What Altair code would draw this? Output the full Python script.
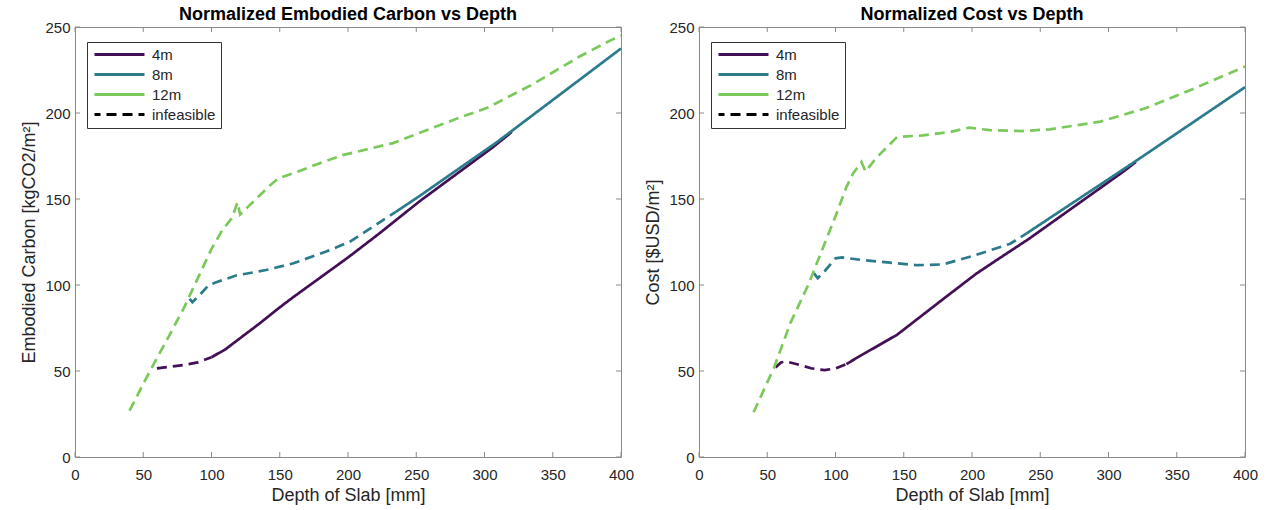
import altair as alt
import pandas as pd

# ---- Embodied carbon vs slab depth (kgCO2/m^2) ----
carbon_4m_depth = [60, 70, 80, 90, 100, 110, 120, 135, 150, 160, 200, 223, 253, 306, 320]
carbon_4m_value = [51.5, 52.5, 53.5, 55, 58, 62.5, 68.5, 77.5, 87, 93, 116, 130, 149, 180, 189]
carbon_4m_feasible_from = 100

carbon_8m_depth = [84, 86, 90, 98, 105, 118, 140, 160, 184, 201, 233, 235, 252, 309, 400]
carbon_8m_value = [92, 90, 93, 100, 102, 105.5, 108.7, 112.6, 119.5, 125, 141.5, 142.5, 151.5, 183, 237.5]
carbon_8m_feasible_from = 235

carbon_12m_depth = [40, 50, 60, 70, 80, 90, 100, 108, 115, 119, 121, 130, 143, 149, 160, 180,
                    196, 233, 251, 284, 302, 336, 370, 393, 400]
carbon_12m_value = [27, 42.5, 57.5, 72, 87, 104, 121, 132, 139, 148, 141, 148, 158, 162, 165, 171,
                    175.5, 182.5, 188, 198, 203, 217, 233, 242.5, 245]
carbon_12m_feasible_from = None

# ---- Cost vs slab depth ($USD/m^2) ----
cost_4m_depth = [56, 60, 64, 74, 82, 92, 100, 108, 117, 145, 180, 203, 220, 242, 311, 320]
cost_4m_value = [52, 55, 55.5, 53.5, 51.6, 50.5, 51.5, 54, 58.3, 71, 92.5, 106.5, 115.5, 127, 166, 171.5]
cost_4m_feasible_from = 108

cost_8m_depth = [84, 87, 92, 100, 105, 120, 140, 160, 179, 203, 228, 240, 318, 400]
cost_8m_value = [107, 104, 108, 115.5, 116, 114.5, 113, 111.5, 112, 117.5, 124, 130, 171, 215]
cost_8m_feasible_from = 240

cost_12m_depth = [40, 55, 67, 80, 92, 100, 108, 113, 119, 122, 130, 135, 145, 164, 184, 198,
                  213, 237, 257, 294, 328, 362, 400]
cost_12m_value = [26, 52, 78, 100, 124, 140, 157, 165, 171.5, 166, 174, 178, 186, 187, 189, 191.5,
                  190, 189.5, 190.5, 195, 203, 214, 227]
cost_12m_feasible_from = None

spans = ["4m", "8m", "12m"]
legend_keys = spans + ["infeasible"]
span_colors = ["#430f55", "#2c7b8c", "#7bc95a", "#000000"]
dash_styles = [[1, 0], [1, 0], [1, 0], [10, 6]]

x_ticks = [0, 50, 100, 150, 200, 250, 300, 350, 400]
y_ticks = [0, 50, 100, 150, 200, 250]

FONT = "Liberation Sans"
FRAME = "#8a8a8a"
TEXT = "#262626"
W, H = 546, 430


def build_rows(series):
    """Split each series into an infeasible (dashed) and feasible (solid) run."""
    rows = []
    for name, depth, value, start in series:
        for d, v in zip(depth, value):
            if start is None or d <= start:
                rows.append({"span": name, "style": "infeasible", "depth": d, "value": v})
            if start is not None and d >= start:
                rows.append({"span": name, "style": name, "depth": d, "value": v})
    return pd.DataFrame(rows)


def panel(series, title, y_title):
    df = build_rows(series)
    xs = alt.Scale(domain=[0, 400], nice=False)
    ys = alt.Scale(domain=[0, 250], nice=False)
    x_axis = alt.Axis(values=x_ticks, ticks=False, domain=False, grid=False, labelPadding=10,
                      labelFlush=False, title="Depth of Slab [mm]", titlePadding=4)
    y_axis = alt.Axis(values=y_ticks, ticks=False, domain=False, grid=False, labelPadding=5,
                      labelFlush=False, title=y_title, titlePadding=6)
    # short horizontal stroke as legend swatch (50 px long, row height stays small)
    legend = alt.Legend(title=None, orient="none", legendX=12, legendY=15,
                        symbolType="M-1,0H9", symbolSize=100, symbolStrokeWidth=3,
                        symbolDashOffset=4,
                        labelFontSize=15, labelFont=FONT, labelColor=TEXT, labelOffset=45,
                        strokeColor="#333333", fillColor="white", padding=5, rowPadding=4)

    lines = alt.Chart(df).mark_line(strokeWidth=2.7).encode(
        x=alt.X("depth:Q", scale=xs, axis=x_axis),
        y=alt.Y("value:Q", scale=ys, axis=y_axis),
        color=alt.Color("span:N", scale=alt.Scale(domain=legend_keys, range=span_colors),
                        legend=legend),
        strokeDash=alt.StrokeDash("style:N", scale=alt.Scale(domain=legend_keys, range=dash_styles),
                                  legend=legend),
        order="depth:Q",
    )

    xt = pd.DataFrame({"t": x_ticks})
    yt = pd.DataFrame({"t": y_ticks})
    tick = dict(color=FRAME, strokeWidth=1)
    xb = alt.Chart(xt).mark_rule(**tick).encode(
        x=alt.X("t:Q", scale=xs, axis=x_axis), y=alt.value(H), y2=alt.value(H - 5))
    xtop = alt.Chart(xt).mark_rule(**tick).encode(
        x=alt.X("t:Q", scale=xs, axis=x_axis), y=alt.value(0), y2=alt.value(5))
    yl = alt.Chart(yt).mark_rule(**tick).encode(
        y=alt.Y("t:Q", scale=ys, axis=y_axis), x=alt.value(0), x2=alt.value(5))
    yr = alt.Chart(yt).mark_rule(**tick).encode(
        y=alt.Y("t:Q", scale=ys, axis=y_axis), x=alt.value(W), x2=alt.value(W - 5))

    return alt.layer(xb, xtop, yl, yr, lines).properties(
        width=W, height=H,
        title=alt.TitleParams(title, fontSize=18, fontWeight="bold", font=FONT, color="#000000",
                              offset=-4),
    )


carbon = panel(
    [("4m", carbon_4m_depth, carbon_4m_value, carbon_4m_feasible_from),
     ("8m", carbon_8m_depth, carbon_8m_value, carbon_8m_feasible_from),
     ("12m", carbon_12m_depth, carbon_12m_value, carbon_12m_feasible_from)],
    "Normalized Embodied Carbon vs Depth", "Embodied Carbon [kgCO2/m²]")

cost = panel(
    [("4m", cost_4m_depth, cost_4m_value, cost_4m_feasible_from),
     ("8m", cost_8m_depth, cost_8m_value, cost_8m_feasible_from),
     ("12m", cost_12m_depth, cost_12m_value, cost_12m_feasible_from)],
    "Normalized Cost vs Depth", "Cost [$USD/m²]")

chart = alt.hconcat(carbon, cost, spacing=9).resolve_scale(
    color="independent", strokeDash="independent"
).properties(
    padding={"left": 20, "top": 5, "right": 0, "bottom": 0}, background="white"
).configure_view(
    stroke=FRAME, strokeWidth=1
).configure_axis(
    labelFont=FONT, labelFontSize=15, labelColor=TEXT,
    titleFont=FONT, titleFontSize=18, titleFontWeight="normal", titleColor=TEXT,
)

chart.save("out.html", embed_options={"renderer": "svg", "actions": False})
